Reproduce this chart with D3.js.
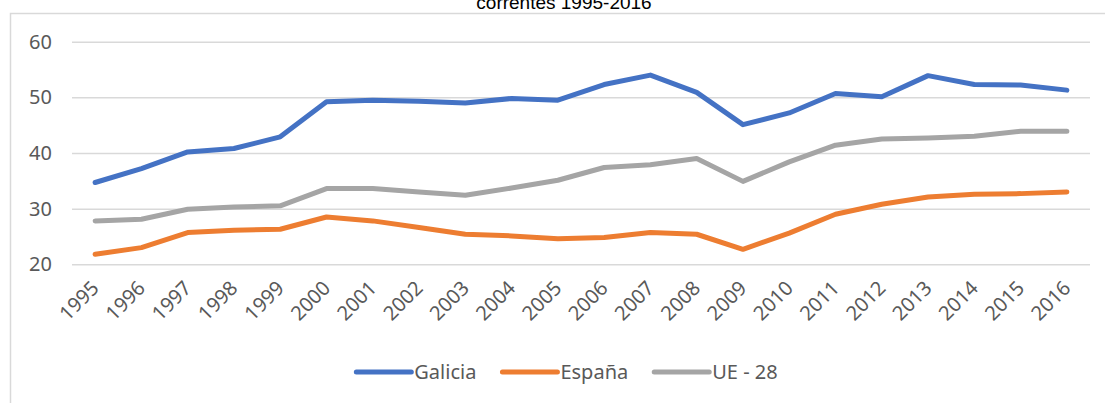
<!DOCTYPE html>
<html>
<head>
<meta charset="utf-8">
<script src="https://cdn.jsdelivr.net/npm/d3@7"></script>
<style>
  body { margin: 0; background: #fff; }
  svg { display: block; }
</style>
</head>
<body>
<div id="chart"></div>
<script>
// datos
const years = [1995, 1996, 1997, 1998, 1999, 2000, 2001, 2002, 2003, 2004, 2005,
               2006, 2007, 2008, 2009, 2010, 2011, 2012, 2013, 2014, 2015, 2016];
const galicia = [34.7, 37.2, 40.2, 40.8, 42.9, 49.2, 49.5, 49.3, 49.0, 49.8, 49.5,
                 52.3, 54.0, 50.9, 45.1, 47.2, 50.7, 50.1, 53.9, 52.3, 52.2, 51.3];
const espana = [21.8, 23.0, 25.7, 26.1, 26.3, 28.5, 27.8, 26.6, 25.4, 25.1, 24.6,
                24.8, 25.7, 25.4, 22.7, 25.6, 29.0, 30.8, 32.1, 32.6, 32.7, 33.0];
const ue28 = [27.8, 28.1, 29.9, 30.3, 30.5, 33.6, 33.6, 33.0, 32.4, 33.7, 35.1,
              37.4, 37.9, 39.0, 34.9, 38.4, 41.4, 42.5, 42.7, 43.0, 43.9, 43.9];
const yTicks = [20, 30, 40, 50, 60];
const title = "correntes 1995-2016";

const series = [
  {name: "Galicia", values: galicia, color: "#4472C4"},
  {name: "España", values: espana, color: "#ED7D31"},
  {name: "UE - 28", values: ue28, color: "#A5A5A5"}
];

const width = 1105, height = 403;
const font = "'Noto Sans', 'Open Sans', sans-serif";

const svg = d3.select("#chart").append("svg")
    .attr("width", width)
    .attr("height", height);

// marco del grafico (solo se ven borde superior e izquierdo)
svg.append("path")
    .attr("d", `M10.5,${height} V13.5 H${width}`)
    .attr("fill", "none")
    .attr("stroke", "#d9d9d9")
    .attr("stroke-width", 1.5);

// titulo (cortado arriba, como en el original)
svg.append("text")
    .attr("x", 564)
    .attr("y", 9)
    .attr("text-anchor", "middle")
    .style("font", "19px 'Liberation Sans', Arial, sans-serif")
    .attr("fill", "#000")
    .text(title);

const x = d3.scaleBand()
    .domain(years)
    .range([72, 1090])
    .padding(0);

const y = d3.scaleLinear()
    .domain([20, 60])
    .range([264.3, 41.7]);

const plotW = 1090 - 72;

// eje y + lineas de cuadricula
const yAxis = svg.append("g")
    .attr("transform", "translate(72,0)")
    .call(d3.axisLeft(y).tickValues(yTicks).tickSize(-plotW).tickPadding(20));
yAxis.select(".domain").remove();
yAxis.selectAll("line")
    .attr("stroke", "#d9d9d9")
    .attr("stroke-width", 1.5);
yAxis.selectAll("text")
    .attr("fill", "#595959")
    .style("font-family", font)
    .style("font-size", "20px");

// eje x con etiquetas giradas
const xAxis = svg.append("g")
    .attr("transform", `translate(0,${y(20)})`)
    .call(d3.axisBottom(x).tickSize(0));
xAxis.select(".domain").remove();
xAxis.selectAll("text")
    .attr("x", 0)
    .attr("y", 0)
    .attr("dy", 0)
    .attr("text-anchor", "end")
    .attr("transform", "translate(5,25) rotate(-45)")
    .attr("fill", "#595959")
    .style("font-family", font)
    .style("font-size", "20px");

const line = d3.line()
    .x((d, i) => x(years[i]) + x.bandwidth() / 2)
    .y(d => y(d));

svg.append("g")
    .selectAll("path")
    .data(series)
    .join("path")
    .attr("d", d => line(d.values))
    .attr("fill", "none")
    .attr("stroke", d => d.color)
    .attr("stroke-width", 5)
    .attr("stroke-linecap", "round")
    .attr("stroke-linejoin", "round");

// leyenda
const legend = svg.append("g");
const items = legend.selectAll("g")
    .data(series)
    .join("g");
items.append("line")
    .attr("x1", 0).attr("x2", 55)
    .attr("y1", 0).attr("y2", 0)
    .attr("stroke", d => d.color)
    .attr("stroke-width", 5)
    .attr("stroke-linecap", "round");
items.append("text")
    .attr("x", 58)
    .attr("dy", "0.35em")
    .attr("fill", "#595959")
    .style("font-family", font)
    .style("font-size", "20px")
    .text(d => d.name);

let offset = 0;
const widths = [];
items.each(function () {
    const w = 58 + this.querySelector("text").getComputedTextLength();
    widths.push(w);
});
const gap = 26;
const total = d3.sum(widths) + gap * (widths.length - 1);
let start = 567 - total / 2;
items.attr("transform", (d, i) => {
    const t = `translate(${start + offset},372)`;
    offset += widths[i] + gap;
    return t;
});
</script>
</body>
</html>
